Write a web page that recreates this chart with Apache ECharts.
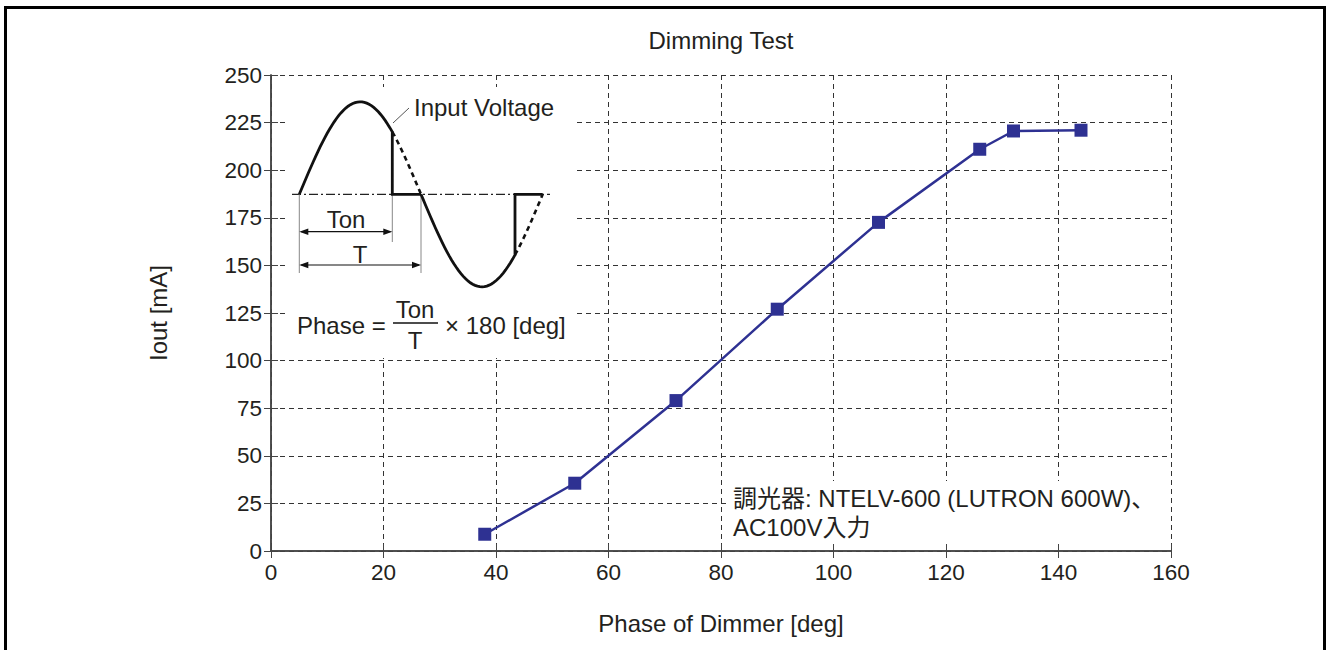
<!DOCTYPE html>
<html><head><meta charset="utf-8">
<script src="https://cdn.jsdelivr.net/npm/echarts@6/dist/echarts.min.js"></script>
<style>html,body{margin:0;padding:0;background:#fff}#c{width:1328px;height:650px}</style>
</head><body><div id="c"></div>
<script>
// ---- data ----
const phaseDeg = [38, 54, 72, 90, 108, 126, 132, 144];
const ioutMA = [8.8, 35.6, 79, 127, 172.6, 211, 220.6, 221];
const xAxisScale = [0, 160, 20];   // min, max, interval
const yAxisScale = [0, 250, 25];
const titleText = 'Dimming Test';
const xTitle = 'Phase of Dimmer [deg]';
const yTitle = 'Iout [mA]';
const noteLines = ['調光器: NTELV-600 (LUTRON 600W)、', 'AC100V入力'];

const FONT = '"Liberation Sans", Arial, "Noto Sans CJK JP", sans-serif';
const TXT = '#231f20';
const FS = 24;      // text size
const FSN = 22.5;   // tick label size

// ---- inset schematic (illustration of phase-cut sine) ----
const IX0 = 299.3, IHW = 121.7, IYB = 194.3, IAMP = 92.5;
function wave(t0, t1, n) {
  const pts = [];
  for (let i = 0; i <= n; i++) {
    const t = t0 + (t1 - t0) * i / n;
    pts.push([IX0 + IHW * t / Math.PI, IYB - IAMP * Math.sin(t)]);
  }
  return pts;
}
const PI = Math.PI;
const tc1 = PI * (392.3 - IX0) / IHW;
const tc2 = PI * (515 - IX0) / IHW;
const xc1 = IX0 + IHW * tc1 / PI, xc2 = IX0 + IHW * tc2 / PI;
const xT = IX0 + IHW, x2P = IX0 + 2 * IHW;

function arrow(xa, xb, y) {
  const L = 9, H = 3.2;
  return [
    { type: 'line', z: 6, shape: { x1: xa + 2, y1: y, x2: xb - 2, y2: y }, style: { stroke: '#111', lineWidth: 1.2 } },
    { type: 'polygon', z: 6, shape: { points: [[xa, y], [xa + L, y - H], [xa + L, y + H]] }, style: { fill: '#111' } },
    { type: 'polygon', z: 6, shape: { points: [[xb, y], [xb - L, y - H], [xb - L, y + H]] }, style: { fill: '#111' } }
  ];
}
function txt(x, y, s, align, size) {
  return { type: 'text', z: 8, style: { x: x, y: y, text: s, font: (size || FS) + 'px ' + FONT, fill: TXT, textAlign: align, textVerticalAlign: 'middle' } };
}

const insetElems = [
  // white boxes hiding grid lines
  { type: 'rect', z: 5, shape: { x: 285, y: 87, width: 290, height: 271 }, style: { fill: '#fff' } },
  { type: 'rect', z: 5, shape: { x: 726, y: 481, width: 445, height: 70 }, style: { fill: '#fff' } },
  // dash-dot baseline
  { type: 'line', z: 6, shape: { x1: 292, y1: IYB, x2: 550, y2: IYB }, style: { stroke: '#222', lineWidth: 1.2, lineDash: [9, 3, 2, 3] } },
  // extension lines
  { type: 'line', z: 6, shape: { x1: IX0, y1: IYB, x2: IX0, y2: 273 }, style: { stroke: '#888', lineWidth: 1 } },
  { type: 'line', z: 6, shape: { x1: xc1, y1: IYB, x2: xc1, y2: 242 }, style: { stroke: '#888', lineWidth: 1 } },
  { type: 'line', z: 6, shape: { x1: xT, y1: IYB, x2: xT, y2: 273 }, style: { stroke: '#888', lineWidth: 1 } },
  // solid waveform
  { type: 'polyline', z: 7, shape: { points: wave(0, tc1, 40).concat([[xc1, IYB], [xT, IYB]]) }, style: { stroke: '#111', lineWidth: 2.8, fill: null, lineJoin: 'miter' } },
  { type: 'polyline', z: 7, shape: { points: wave(PI, tc2, 40).concat([[xc2, IYB], [x2P, IYB]]) }, style: { stroke: '#111', lineWidth: 2.8, fill: null, lineJoin: 'miter' } },
  // dashed cut-off part
  { type: 'polyline', z: 7, shape: { points: wave(tc1, PI, 12) }, style: { stroke: '#111', lineWidth: 2.6, fill: null, lineDash: [5, 4] } },
  { type: 'polyline', z: 7, shape: { points: wave(tc2, 2 * PI, 12) }, style: { stroke: '#111', lineWidth: 2.6, fill: null, lineDash: [5, 4] } },
  // leader line
  { type: 'line', z: 6, shape: { x1: 393, y1: 123, x2: 409, y2: 108 }, style: { stroke: '#555', lineWidth: 1 } },
  txt(414, 107, 'Input Voltage', 'left'),
  txt(346, 219, 'Ton', 'center'),
  txt(360, 254, 'T', 'center'),
  // formula
  txt(297, 325, 'Phase =', 'left'),
  txt(415, 309, 'Ton', 'center'),
  { type: 'line', z: 8, shape: { x1: 393, y1: 323, x2: 438, y2: 323 }, style: { stroke: '#111', lineWidth: 1.3 } },
  txt(415, 340, 'T', 'center'),
  txt(445, 325, '× 180 [deg]', 'left'),
  // note
  txt(733, 498, noteLines[0], 'left'),
  txt(733, 527, noteLines[1], 'left'),
  // title
  txt(721, 40, titleText, 'center'),
  // outer frame
  { type: 'rect', z: 9, shape: { x: 5.5, y: 7.5, width: 1319, height: 700 }, style: { fill: null, stroke: '#000', lineWidth: 3 } }
].concat(arrow(IX0, xc1, 231.7), arrow(IX0, xT, 265));

const gridPos = { left: 271, top: 75, right: 157, bottom: 99, containLabel: false };
const axisLineStyle = { show: true, lineStyle: { color: '#444', width: 1.5 } };
const tickIn = { show: true, inside: true, length: 7, lineStyle: { color: '#444', width: 1 } };
const dashed = { show: true, lineStyle: { color: '#333', width: 1, type: [5, 4] } };

function valAxis(scale, extra) {
  return Object.assign({ type: 'value', min: scale[0], max: scale[1], interval: scale[2] }, extra);
}

const chart = echarts.init(document.getElementById('c'), null, { renderer: 'svg', width: 1328, height: 650 });
chart.setOption({
  animation: false,
  backgroundColor: '#fff',
  textStyle: { fontFamily: FONT },
  grid: [Object.assign({}, gridPos), Object.assign({}, gridPos)],
  xAxis: [
    valAxis(xAxisScale, { gridIndex: 0, z: 0, axisLine: { show: false }, axisTick: { show: false }, axisLabel: { show: false }, splitLine: dashed }),
    valAxis(xAxisScale, { gridIndex: 1, z: 10, position: 'bottom', axisLine: axisLineStyle, axisTick: tickIn, splitLine: { show: false },
      axisLabel: { margin: 10, fontSize: FSN, color: TXT, fontFamily: FONT },
      name: xTitle, nameLocation: 'middle', nameGap: 60, nameTextStyle: { fontSize: FS, color: TXT, fontFamily: FONT } }),
    valAxis(xAxisScale, { gridIndex: 1, z: 10, position: 'top', axisLine: axisLineStyle, axisTick: tickIn, axisLabel: { show: false }, splitLine: { show: false } })
  ],
  yAxis: [
    valAxis(yAxisScale, { gridIndex: 0, z: 0, axisLine: { show: false }, axisTick: { show: false }, axisLabel: { show: false }, splitLine: dashed }),
    valAxis(yAxisScale, { gridIndex: 1, z: 10, position: 'left', axisLine: axisLineStyle, axisTick: tickIn, splitLine: { show: false },
      axisLabel: { margin: 9, fontSize: FSN, color: TXT, fontFamily: FONT },
      name: yTitle, nameLocation: 'middle', nameGap: 101, nameRotate: 90, nameTextStyle: { fontSize: FS, color: TXT, fontFamily: FONT } }),
    valAxis(yAxisScale, { gridIndex: 1, z: 10, position: 'right', axisLine: axisLineStyle, axisTick: tickIn, axisLabel: { show: false }, splitLine: { show: false } })
  ],
  series: [{
    type: 'line',
    xAxisIndex: 1, yAxisIndex: 1,
    data: phaseDeg.map((x, i) => [x, ioutMA[i]]),
    symbol: 'rect', symbolSize: 13,
    lineStyle: { color: '#2e3192', width: 2.5 },
    itemStyle: { color: '#2e3192' },
    z: 3
  }],
  graphic: { elements: insetElems }
});
</script></body></html>
